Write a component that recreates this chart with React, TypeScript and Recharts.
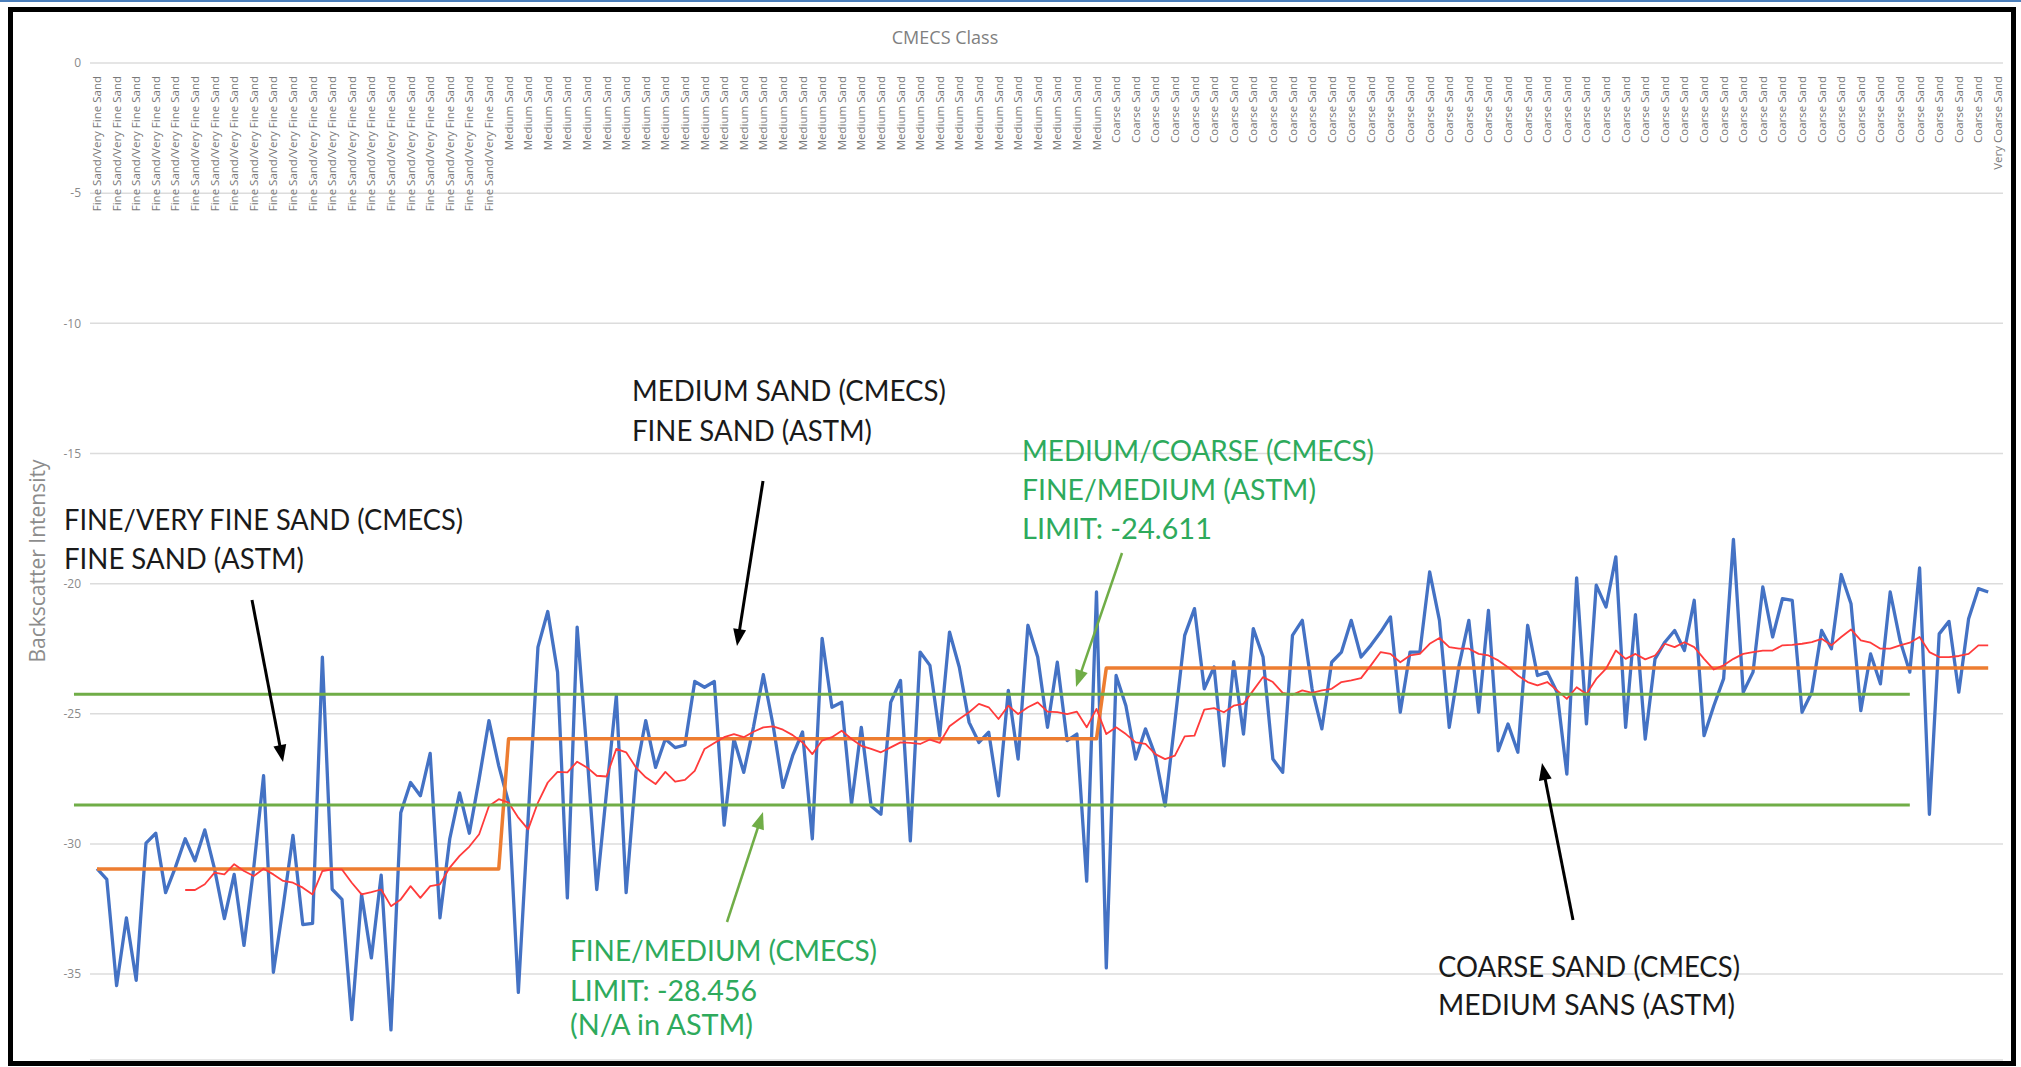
import React from "react";
import { LineChart, Line, XAxis, YAxis, CartesianGrid, ReferenceLine } from "recharts";

// ---------- DATA ----------
const classNames = ["Fine Sand/Very Fine Sand", "Medium Sand", "Coarse Sand", "Very Coarse Sand"];
const classCounts = [42, 61, 91, 1];

const stepLevels = [-30.96, -25.96, -23.24];
const stepCounts = [42, 61, 91];

const backscatter = [
  -30.95, -31.36, -35.44, -32.84, -35.24, -29.97, -29.59, -31.87, -30.9, -29.8,
  -30.65, -29.46, -30.97, -32.87, -31.17, -33.9, -30.9, -27.38, -34.93, -32.4,
  -29.67, -33.1, -33.05, -22.82, -31.74, -32.13, -36.75, -31.94, -34.38, -31.2,
  -37.14, -28.8, -27.64, -28.15, -26.52, -32.84, -29.8, -28.04, -29.59, -27.5,
  -25.26, -27.0, -28.4, -35.7, -29.0, -22.44, -21.07, -23.4, -32.07, -21.67,
  -26.5, -31.75, -28.0, -24.3, -31.87, -27.25, -25.26, -27.06, -25.97, -26.3,
  -26.2, -23.76, -23.98, -23.76, -29.28, -25.97, -27.25, -25.5, -23.5, -25.45,
  -27.83, -26.6, -25.7, -29.8, -22.1, -24.75, -24.56, -28.47, -25.52, -28.54,
  -28.86, -24.56, -23.72, -29.88, -22.63, -23.14, -25.84, -21.86, -23.21, -25.33,
  -26.1, -25.71, -28.15, -24.1, -26.74, -21.6, -22.82, -25.52, -23.02, -26.03,
  -25.78, -31.43, -20.32, -34.76, -23.53, -24.69, -26.74, -25.58, -26.6, -28.54,
  -25.3, -21.99, -20.96, -24.04, -23.2, -27.0, -23.0, -25.78, -21.73, -22.82,
  -26.74, -27.25, -21.99, -21.41, -24.04, -25.58, -23.02, -22.63, -21.41, -22.82,
  -22.37, -21.86, -21.28, -24.94, -22.63, -22.63, -19.55, -21.41, -25.52, -23.14,
  -21.41, -24.94, -21.03, -26.42, -25.39, -26.48, -21.6, -23.53, -23.4, -24.17,
  -27.32, -19.78, -25.39, -20.06, -20.9, -18.97, -25.52, -21.19, -25.97, -22.89,
  -22.25, -21.8, -22.57, -20.64, -25.84, -24.69, -23.65, -18.3, -24.17, -23.4,
  -20.13, -22.05, -20.58, -20.64, -24.94, -24.17, -21.8, -22.5, -19.65, -20.77,
  -24.88, -22.7, -23.85, -20.32, -22.18, -23.4, -19.4, -28.86, -21.93, -21.45,
  -24.17, -21.35, -20.19, -20.32,
];

const movingAverage: (number | null)[] = [
  null, null, null, null, null, null, null, null, null,
  -31.77, -31.77, -31.55, -31.1, -31.17, -30.78, -31.04, -31.23, -30.95, -31.17,
  -31.42, -31.49, -31.68, -31.94, -31.04, -30.98, -30.98, -31.49, -31.94, -31.85,
  -31.75, -32.39, -32.13, -31.62, -32.07, -31.62, -31.55, -30.91, -30.46, -30.1,
  -29.63, -28.54, -28.28, -28.41, -28.99, -29.44, -28.41, -27.64, -27.23, -27.25,
  -26.84, -27.06, -27.38, -27.41, -26.35, -26.48, -27.06, -27.44, -27.7, -27.23,
  -27.61, -27.54, -27.19, -26.35, -26.12, -25.9, -25.78, -25.9, -25.69, -25.52,
  -25.48, -25.61, -25.82, -26.1, -26.55, -26.03, -25.9, -25.65, -25.97, -26.23,
  -26.35, -26.48, -26.29, -26.1, -26.12, -26.16, -25.99, -26.12, -25.48, -25.2,
  -24.94, -24.62, -24.75, -25.2, -24.69, -25.01, -24.75, -24.56, -24.92, -24.94,
  -25.01, -24.92, -25.52, -24.81, -25.78, -25.52, -25.78, -26.1, -26.16, -26.55,
  -26.74, -26.61, -25.87, -25.84, -24.84, -24.78, -24.94, -24.69, -24.62, -24.1,
  -23.59, -23.78, -24.2, -24.27, -24.1, -24.2, -24.1, -24.04, -23.78, -23.72,
  -23.63, -23.14, -22.63, -22.7, -23.02, -22.76, -22.7, -22.31, -22.09, -22.44,
  -22.5, -22.5, -22.7, -22.76, -22.95, -23.21, -23.53, -23.78, -23.91, -23.78,
  -24.1, -24.43, -23.98, -24.24, -23.66, -23.27, -22.57, -22.89, -22.7, -22.91,
  -22.76, -22.31, -22.44, -22.25, -22.44, -22.89, -23.3, -23.14, -22.89, -22.7,
  -22.63, -22.57, -22.57, -22.37, -22.35, -22.31, -22.25, -22.12, -22.37, -22.05,
  -21.76, -22.18, -22.27, -22.5, -22.5, -22.37, -22.27, -22.05, -22.63, -22.82,
  -22.82, -22.78, -22.7, -22.37, -22.37,
];

const yTicks = [0, -5, -10, -15, -20, -25, -30, -35];
const fineMediumLimit = -28.5;
const mediumCoarseLimit = -24.25;

// ---------- TABLE ----------
const categories: string[] = classNames.flatMap((n, k) => Array(classCounts[k]).fill(n));
const steps: number[] = stepLevels.flatMap((v, k) => Array(stepCounts[k]).fill(v));
const data = categories.map((c, i) => ({
  idx: i,
  cls: c,
  backscatter: backscatter[i] ?? null,
  avg: movingAverage[i] ?? null,
  mean: steps[i] ?? null,
}));
const xTicks = data.filter((d) => d.idx % 2 === 0).map((d) => d.idx);
const lastIdx = categories.length - 1;

// ---------- STYLE ----------
const BLUE = "#4472c4";
const ORANGE = "#ed7d31";
const RED = "#ff3b3b";
const LGREEN = "#70ad47";
const TGREEN = "#2eaa5c";
const GRAY = "#8c8c8c";
const ANN_FONT = "Lato, 'Open Sans', sans-serif";

const renderCatTick = (props: any) => {
  const { x, payload, index } = props;
  const label = categories[payload.value] ?? "";
  return (
    <text
      key={`ct-${index}`}
      transform={`translate(${x},76) rotate(-90)`}
      textAnchor="end"
      dy="0.35em"
      fontSize={11.5}
      fill="#787878"
      fontFamily="'Open Sans', sans-serif"
    >
      {label}
    </text>
  );
};

function Arrow({ x1, y1, x2, y2, color, w }: { x1: number; y1: number; x2: number; y2: number; color: string; w: number }) {
  const dx = x2 - x1;
  const dy = y2 - y1;
  const len = Math.hypot(dx, dy);
  const ux = dx / len;
  const uy = dy / len;
  const hl = 17;
  const hw = 6.5;
  const bx = x2 - ux * hl;
  const by = y2 - uy * hl;
  const pts = `${x2},${y2} ${bx - uy * hw},${by + ux * hw} ${bx + uy * hw},${by - ux * hw}`;
  return (
    <g>
      <line x1={x1} y1={y1} x2={bx + ux * 2} y2={by + uy * 2} stroke={color} strokeWidth={w} />
      <polygon points={pts} fill={color} />
    </g>
  );
}

function Ann({ x, y, w, color, children }: { x: number; y: number; w: number; color: string; children: string }) {
  return (
    <text x={x} y={y} fontSize={28} fontFamily={ANN_FONT} fill={color} textLength={w} lengthAdjust="spacingAndGlyphs">
      {children}
    </text>
  );
}

export default function App() {
  return (
    <div style={{ position: "fixed", left: 0, top: 0, width: 2021, height: 1067, background: "#fff", overflow: "hidden" }}>
      <div style={{ position: "absolute", left: 0, top: 0, width: 2021, height: 2, background: "#4a7ebb" }} />
      <div style={{ position: "absolute", left: 0, top: 0 }}>
        <LineChart width={2021} height={1067} data={data} margin={{ top: 43, right: 18, bottom: 7, left: 0 }}>
          <CartesianGrid horizontal vertical={false} stroke="#dcdcdc" strokeWidth={1.5} />
          <XAxis
            type="number"
            dataKey="idx"
            domain={[0, lastIdx]}
            ticks={xTicks}
            interval={0}
            orientation="top"
            height={20}
            padding={{ left: 7, right: 5 }}
            axisLine={false}
            tickLine={false}
            tick={renderCatTick}
          />
          <YAxis
            type="number"
            domain={[-38.3, 0]}
            ticks={yTicks}
            interval={0}
            width={90}
            tickSize={0}
            tickMargin={9}
            axisLine={false}
            tickLine={false}
            tick={{ fontSize: 12, fill: "#8a8a8a", fontFamily: "'Open Sans', sans-serif" }}
          />
          <Line type="linear" dataKey="backscatter" stroke={BLUE} strokeWidth={3.3} dot={false} activeDot={false} isAnimationActive={false} strokeLinejoin="round" />
          <Line type="linear" dataKey="mean" stroke={ORANGE} strokeWidth={3.5} dot={false} activeDot={false} isAnimationActive={false} strokeLinejoin="round" />
          <Line type="linear" dataKey="avg" stroke={RED} strokeWidth={1.8} dot={false} activeDot={false} isAnimationActive={false} strokeLinejoin="round" />
          <ReferenceLine
            segment={[{ x: -2.35, y: mediumCoarseLimit }, { x: 185, y: mediumCoarseLimit }]}
            stroke={LGREEN}
            strokeWidth={3}
            ifOverflow="visible"
          />
          <ReferenceLine
            segment={[{ x: -2.35, y: fineMediumLimit }, { x: 185, y: fineMediumLimit }]}
            stroke={LGREEN}
            strokeWidth={3}
            ifOverflow="visible"
          />
        </LineChart>
      </div>
      <svg width={2021} height={1067} style={{ position: "absolute", left: 0, top: 0, pointerEvents: "none" }}>
        <text x={945} y={44} textAnchor="middle" fontSize={18} fill="#7f7f7f" fontFamily="'Open Sans', sans-serif">
          CMECS Class
        </text>
        <text transform="translate(45,561) rotate(-90)" textAnchor="middle" fontSize={21} fill={GRAY} fontFamily="'Open Sans', sans-serif">
          Backscatter Intensity
        </text>

        <Ann x={64} y={530} w={399} color="#1a1a1a">FINE/VERY FINE SAND (CMECS)</Ann>
        <Ann x={64} y={569} w={240} color="#1a1a1a">FINE SAND (ASTM)</Ann>

        <Ann x={632} y={401} w={314} color="#1a1a1a">MEDIUM SAND (CMECS)</Ann>
        <Ann x={632} y={441} w={240} color="#1a1a1a">FINE SAND (ASTM)</Ann>

        <Ann x={1022} y={461} w={352} color={TGREEN}>MEDIUM/COARSE (CMECS)</Ann>
        <Ann x={1022} y={500} w={294} color={TGREEN}>FINE/MEDIUM (ASTM)</Ann>
        <Ann x={1022} y={539} w={190} color={TGREEN}>LIMIT: -24.611</Ann>

        <Ann x={570} y={961} w={307} color={TGREEN}>FINE/MEDIUM (CMECS)</Ann>
        <Ann x={570} y={1001} w={187} color={TGREEN}>LIMIT: -28.456</Ann>
        <Ann x={570} y={1035} w={183} color={TGREEN}>(N/A in ASTM)</Ann>

        <Ann x={1438} y={977} w={302} color="#1a1a1a">COARSE SAND (CMECS)</Ann>
        <Ann x={1438} y={1015} w={297} color="#1a1a1a">MEDIUM SANS (ASTM)</Ann>

        <Arrow x1={252} y1={600} x2={283} y2={762} color="#000" w={3} />
        <Arrow x1={763} y1={481} x2={737} y2={646} color="#000" w={3} />
        <Arrow x1={1122} y1={553} x2={1076} y2={687} color={LGREEN} w={2.5} />
        <Arrow x1={727} y1={922} x2={763} y2={812} color={LGREEN} w={2.5} />
        <Arrow x1={1573} y1={920} x2={1542} y2={763} color="#000" w={3} />
      </svg>
      <div
        style={{
          position: "absolute",
          left: 8,
          top: 7,
          width: 2008,
          height: 1059,
          border: "5px solid #000",
          boxSizing: "border-box",
          pointerEvents: "none",
        }}
      />
    </div>
  );
}
